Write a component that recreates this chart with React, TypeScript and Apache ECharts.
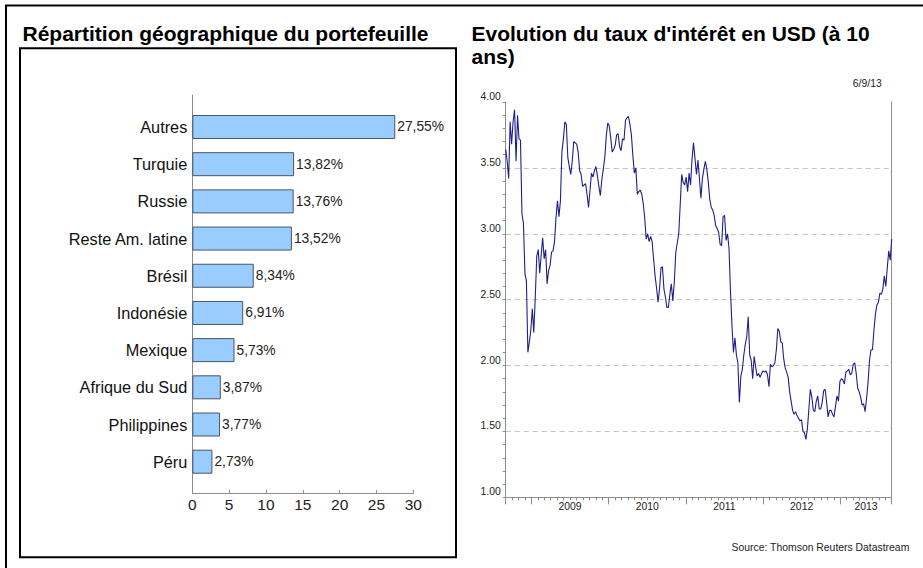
import React, { useEffect, useRef } from "react";
import * as echarts from "echarts";

// ---------- Left chart: geographic breakdown ----------
const countries = [
  "Autres",
  "Turquie",
  "Russie",
  "Reste Am. latine",
  "Brésil",
  "Indonésie",
  "Mexique",
  "Afrique du Sud",
  "Philippines",
  "Péru",
];
const weights = [27.55, 13.82, 13.76, 13.52, 8.34, 6.91, 5.73, 3.87, 3.77, 2.73];

// ---------- Right chart: USD 10y rate, weekly (Fridays) ----------
const firstFriday = "2008-09-05";
const rates2008 = [3.64, 3.55, 3.42, 3.85, 3.68, 3.85, 3.94, 3.55, 3.9, 3.72, 3.71, 3.15, 3.08, 2.7, 2.64, 2.1, 2.18];
const rates2009 = [
  2.27, 2.43, 2.25, 2.52, 2.83, 2.88, 2.7, 2.84, 2.97, 2.81, 2.88, 2.62, 2.72, 2.76, 2.86, 2.87, 2.94, 3.12, 3.25, 3.13,
  3.25, 3.62, 3.72, 3.85, 3.83, 3.58, 3.51, 3.45, 3.55, 3.7, 3.69, 3.68, 3.62, 3.48, 3.45, 3.36, 3.37, 3.38, 3.3, 3.2,
  3.33, 3.46, 3.43, 3.48, 3.51, 3.44, 3.36, 3.29, 3.41, 3.49, 3.58, 3.74,
];
const rates2010 = [
  3.84, 3.82, 3.73, 3.62, 3.64, 3.67, 3.75, 3.76, 3.66, 3.63, 3.72, 3.71, 3.86, 3.88, 3.89, 3.83, 3.75, 3.59, 3.46, 3.5,
  3.3, 3.32, 3.33, 3.3, 3.23, 3.12, 2.96, 3.0, 2.94, 2.98, 2.94, 2.81, 2.68, 2.59, 2.48, 2.58, 2.74, 2.75, 2.58, 2.52,
  2.44, 2.44, 2.54, 2.62, 2.49, 2.63, 2.86, 2.93, 3.0, 3.22, 3.45, 3.39, 3.37,
];
const rates2011 = [
  3.43, 3.32, 3.46, 3.37, 3.57, 3.69, 3.57, 3.45, 3.56, 3.42, 3.27, 3.42, 3.49, 3.55, 3.49, 3.39, 3.26, 3.2, 3.18, 3.14,
  3.06, 3.04, 3.01, 2.92, 2.91, 3.13, 3.14, 2.95, 3.0, 2.89, 2.56, 2.3, 2.1, 2.21, 2.08, 2.02, 1.72, 1.92, 1.97, 2.08,
  2.16, 2.22, 2.37, 2.08, 2.04, 1.9, 2.07, 1.99, 1.92, 1.94, 1.91, 1.94,
];
const rates2012 = [
  1.96, 1.95, 1.96, 1.93, 1.84, 2.01, 1.99, 2.0, 2.02, 2.12, 2.28, 2.26, 2.18, 2.17, 2.05, 1.98, 1.95, 1.91, 1.8, 1.73,
  1.66, 1.63, 1.65, 1.62, 1.6, 1.58, 1.59, 1.5, 1.49, 1.44, 1.52, 1.67, 1.82, 1.76, 1.66, 1.65, 1.73, 1.77, 1.67, 1.67,
  1.72, 1.81, 1.82, 1.72, 1.61, 1.66, 1.66, 1.63, 1.61, 1.69, 1.77, 1.73,
];
const rates2013 = [
  1.88, 1.9, 1.89, 1.86, 1.95, 1.96, 1.97, 1.93, 1.94, 2.01, 2.02, 1.94, 1.83, 1.8, 1.76, 1.7, 1.71, 1.65, 1.75, 1.87,
  2.04, 2.12, 2.12, 2.27, 2.39, 2.46, 2.48, 2.55, 2.54, 2.58, 2.68, 2.6, 2.74, 2.87, 2.8, 2.96,
];
const yearLabels = ["2009", "2010", "2011", "2012", "2013"];

const leftTitle = "Répartition géographique du portefeuille";
const rightTitle = "Evolution du taux d'intérêt en USD (à 10\nans)";
const asOfLabel = "6/9/13";
const sourceLabel = "Source: Thomson Reuters Datastream";

const FONT = "'Liberation Sans', Arial, Helvetica, sans-serif";
const AXIS_GREY = "#8c8c8c";

function buildOption() {
  const DAY = 86400000;
  const [fy, fm, fd] = firstFriday.split("-").map(Number);
  const t0 = Date.UTC(fy, fm - 1, fd);
  const rates = [...rates2008, ...rates2009, ...rates2010, ...rates2011, ...rates2012, ...rates2013];
  const lineData = rates.map((v, i) => [t0 + i * 7 * DAY, v]);
  const tEnd = t0 + (rates.length - 1) * 7 * DAY;

  // month boundaries covering the axis
  const s = new Date(t0);
  const e = new Date(tEnd);
  const months: string[] = [];
  let y = s.getUTCFullYear();
  let m = s.getUTCMonth();
  while (y < e.getUTCFullYear() || (y === e.getUTCFullYear() && m <= e.getUTCMonth())) {
    months.push(`${y}-${String(m + 1).padStart(2, "0")}`);
    m++;
    if (m > 11) {
      m = 0;
      y++;
    }
  }
  const labelAt: Record<string, string> = {};
  yearLabels.forEach((yr) => {
    const a = months.findIndex((mm) => mm.startsWith(yr));
    const nj = months.indexOf(`${Number(yr) + 1}-01`);
    const b = nj >= 0 ? nj : months.length - 1;
    labelAt[months[Math.round((a + b) / 2)]] = yr;
  });
  const longTick = (i: number, v: string) => i === 0 || i === months.length - 1 || v.endsWith("-01");

  const fmtPct = (v: number) => v.toFixed(2).replace(".", ",") + "%";

  return {
    animation: false,
    textStyle: { fontFamily: FONT },
    grid: [
      { left: 192.3, right: 509.7, top: 95, bottom: 75, containLabel: false, outerBoundsMode: "none" },
      { left: 192.3, right: 509.7, top: 108.4, bottom: 87.7, containLabel: false, outerBoundsMode: "none" },
      { left: 505.7, right: 31.3, top: 102, bottom: 70.7, containLabel: false, outerBoundsMode: "none" },
    ],
    xAxis: [
      {
        gridIndex: 0,
        type: "value",
        position: "bottom",
        min: 0,
        max: 30,
        interval: 5,
        axisLine: { show: true, onZero: false, lineStyle: { color: AXIS_GREY, width: 1 } },
        axisTick: { show: true, inside: true, length: 3, lineStyle: { color: AXIS_GREY } },
        axisLabel: { fontSize: 15.5, color: "#222", margin: 3, fontFamily: FONT },
        splitLine: { show: false },
      },
      { gridIndex: 1, type: "value", position: "bottom", min: 0, max: 30, show: false },
      { gridIndex: 2, type: "time", position: "bottom", min: t0, max: tEnd, show: false },
      {
        gridIndex: 2,
        type: "category",
        position: "bottom",
        data: months,
        boundaryGap: false,
        axisLine: { show: true, onZero: false, lineStyle: { color: AXIS_GREY, width: 1 } },
        axisTick: { show: true, interval: 0, length: 3, lineStyle: { color: AXIS_GREY } },
        axisLabel: {
          show: true,
          interval: (_i: number, v: string) => !!labelAt[v],
          formatter: (v: string) => labelAt[v] || "",
          fontSize: 10.4,
          color: "#222",
          margin: 4,
          fontFamily: FONT,
        },
        splitLine: { show: false },
      },
      {
        gridIndex: 2,
        type: "category",
        position: "bottom",
        data: months,
        boundaryGap: false,
        axisLine: { show: false, onZero: false },
        axisTick: { show: true, interval: longTick, length: 7, lineStyle: { color: AXIS_GREY } },
        axisLabel: { show: false },
        splitLine: { show: false },
      },
    ],
    yAxis: [
      {
        gridIndex: 0,
        type: "value",
        position: "left",
        min: 0,
        max: 1,
        axisLine: { show: true, onZero: false, lineStyle: { color: AXIS_GREY, width: 1 } },
        axisTick: { show: false },
        axisLabel: { show: false },
        splitLine: { show: false },
      },
      {
        gridIndex: 1,
        type: "category",
        position: "left",
        data: countries,
        inverse: true,
        axisLine: { show: false },
        axisTick: { show: false },
        axisLabel: { fontSize: 16.3, color: "#111", margin: 5, fontFamily: FONT },
      },
      {
        gridIndex: 2,
        type: "value",
        position: "left",
        min: 1,
        max: 4,
        interval: 0.5,
        axisLine: { show: true, onZero: false, lineStyle: { color: AXIS_GREY, width: 1 } },
        axisTick: { show: true, length: 3, lineStyle: { color: AXIS_GREY } },
        minorTick: { show: true, splitNumber: 5, length: 3, lineStyle: { color: AXIS_GREY } },
        axisLabel: {
          formatter: (v: number) => v.toFixed(2),
          fontSize: 10.4,
          color: "#222",
          margin: 5,
          verticalAlign: "bottom",
          lineHeight: 11,
          fontFamily: FONT,
        },
        splitLine: {
          show: true,
          showMinLine: false,
          showMaxLine: false,
          lineStyle: { color: "#c4c4c4", type: [5, 4], width: 1 },
        },
      },
      {
        gridIndex: 2,
        type: "value",
        position: "right",
        min: 1,
        max: 4,
        axisLine: { show: true, onZero: false, lineStyle: { color: AXIS_GREY, width: 1 } },
        axisTick: { show: false },
        axisLabel: { show: false },
        splitLine: { show: false },
      },
    ],
    series: [
      {
        type: "bar",
        xAxisIndex: 1,
        yAxisIndex: 1,
        data: weights,
        barWidth: 24,
        silent: true,
        itemStyle: { color: "#99CCFF", borderColor: "#4a5566", borderWidth: 1 },
        label: {
          show: true,
          position: "right",
          distance: 2,
          formatter: (p: any) => fmtPct(p.value),
          fontSize: 13.8,
          color: "#222",
          fontFamily: FONT,
        },
      },
      {
        type: "line",
        xAxisIndex: 2,
        yAxisIndex: 2,
        data: lineData,
        symbol: "none",
        silent: true,
        lineStyle: { color: "#1f1f8c", width: 1.1 },
      },
    ],
    graphic: [
      {
        type: "rect",
        shape: { x: 6, y: 5.5, width: 1000, height: 1000 },
        style: { fill: "none", stroke: "#000", lineWidth: 2 },
        silent: true,
      },
      {
        type: "rect",
        shape: { x: 20, y: 48.3, width: 436, height: 509 },
        style: { fill: "none", stroke: "#000", lineWidth: 2 },
        silent: true,
      },
      {
        type: "text",
        x: 22.5,
        y: 33.4,
        style: {
          text: leftTitle,
          fontSize: 21,
          fontWeight: "bold",
          fontFamily: FONT,
          fill: "#000",
          align: "left",
          verticalAlign: "middle",
        },
      },
      {
        type: "text",
        x: 471.5,
        y: 22,
        style: {
          text: rightTitle,
          fontSize: 21,
          lineHeight: 23,
          fontWeight: "bold",
          fontFamily: FONT,
          fill: "#000",
          align: "left",
          verticalAlign: "top",
        },
      },
      {
        type: "text",
        x: 881.7,
        y: 83.5,
        style: { text: asOfLabel, fontSize: 10.4, fontFamily: FONT, fill: "#222", align: "right", verticalAlign: "middle" },
      },
      {
        type: "text",
        x: 909.3,
        y: 547.7,
        style: { text: sourceLabel, fontSize: 10.4, fontFamily: FONT, fill: "#222", align: "right", verticalAlign: "middle" },
      },
    ],
  };
}

export default function App() {
  const ref = useRef<HTMLDivElement>(null);
  useEffect(() => {
    if (!ref.current) return;
    const chart = echarts.init(ref.current, undefined, { renderer: "svg" });
    chart.setOption(buildOption() as any);
    return () => chart.dispose();
  }, []);
  return (
    <div
      ref={ref}
      style={{ position: "fixed", left: 0, top: 0, width: 923, height: 568, background: "#fff" }}
    />
  );
}
